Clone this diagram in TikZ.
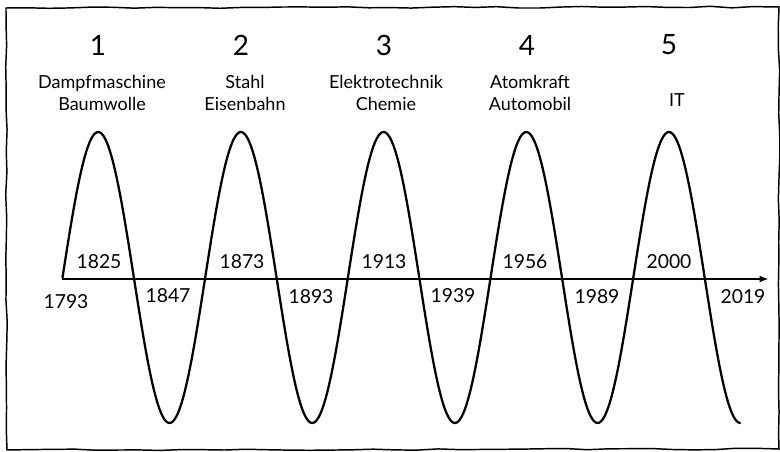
\documentclass[tikz,border=0pt]{standalone}
\usepackage{fontspec}
\setmainfont{Lato}
\usetikzlibrary{arrows.meta,decorations.pathmorphing}

\begin{document}
\begin{tikzpicture}[
    x=0.75pt, y=-0.75pt,
    frame/.style={draw, line width=1.1pt, decorate,
                  decoration={random steps, segment length=16pt, amplitude=0.6pt}},
    wave/.style={line width=1.7pt, line cap=round},
    axis/.style={-{Latex[length=7pt, width=5pt]}, line width=1.4pt},
    wavenum/.style={font=\fontsize{21}{24}\selectfont},
    tech/.style={font=\fontsize{13.5}{17}\selectfont, align=center},
    year/.style={font=\fontsize{14.5}{16}\selectfont, inner sep=1pt},
]
\useasboundingbox (0,0) rectangle (780,452);
\pgfmathsetseed{7}

% Hand-drawn frame
\draw[frame] (6,8) -- (779,7) -- (779,449) -- (7,450) -- cycle;

% Time axis
\coordinate (axstart) at (62,279);
\coordinate (axend)   at (769,279);
\draw[axis] (axstart) -- (axend);

% Long waves: 4.75 periods starting on the axis (period 142.7)
\draw[wave] plot[domain=62.5:740, samples=400]
    (\x, {277.5 - 145.5*sin(2.52278*(\x-62.5))});

% Wave numbers
\node[wavenum] (n1) at (98,45)  {1};
\node[wavenum] (n2) at (241,45) {2};
\node[wavenum] (n3) at (384,45) {3};
\node[wavenum] (n4) at (527,45) {4};
\node[wavenum] (n5) at (669,45) {5};

% Key technologies
\node[tech] (t1) at (102,93)  {Dampfmaschine\\Baumwolle};
\node[tech] (t2) at (245,93)  {Stahl\\Eisenbahn};
\node[tech] (t3) at (386,93)  {Elektrotechnik\\Chemie};
\node[tech] (t4) at (530,93)  {Atomkraft\\Automobil};
\node[tech] (t5) at (677,100) {IT};

% Years above the axis
\node[year] (y1825) at (99,262)  {1825};
\node[year] (y1873) at (242,262) {1873};
\node[year] (y1913) at (384,262) {1913};
\node[year] (y1956) at (525,262) {1956};
\node[year] (y2000) at (669,262) {2000};

% Years below the axis
\node[year] (y1793) at (66,302)  {1793};
\node[year] (y1847) at (168,296) {1847};
\node[year] (y1893) at (311,297) {1893};
\node[year] (y1939) at (453,296) {1939};
\node[year] (y1989) at (597,297) {1989};
\node[year] (y2019) at (743,297) {2019};

\end{tikzpicture}
\end{document}
